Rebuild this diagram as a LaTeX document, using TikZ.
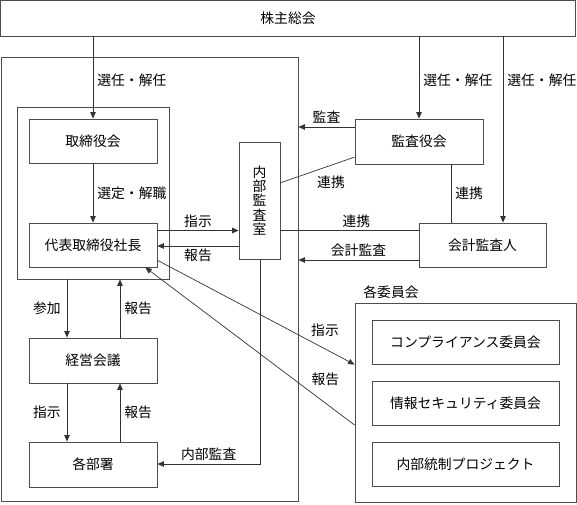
\documentclass[tikz,border=0pt]{standalone}
\usepackage{fontspec}
\setmainfont{Noto Sans CJK JP}
\usetikzlibrary{arrows.meta,positioning,calc}
\newcommand{\figfont}{\fontsize{13.8}{14.2}\selectfont}
\tikzset{
>={Triangle[length=6.5pt,width=5.5pt]},
  box/.style={
    rectangle,
    draw=black!70, line width=0.8pt,
    minimum width=128pt,
    minimum height=44pt,
    inner sep=0pt,
    font=\figfont},
  frame/.style={rectangle, draw=black!70, line width=0.8pt, inner sep=0pt},
  line/.style={draw=black!80, line width=0.7pt},
  arr/.style={line, ->},
  tag/.style={font=\figfont, inner sep=1pt},
}

\begin{document}
\begin{tikzpicture}[x=1pt,y=-1pt]
  \useasboundingbox (0,0) rectangle (577,504);
  % frames
  \node[frame, minimum width=297pt, minimum height=444pt] (kaisha) at (149.5,279.5) {};
  \node[frame, minimum width=152pt, minimum height=172pt] (torikai) at (93,193) {};
  \node[frame, minimum width=221pt, minimum height=199pt] (iinkai) at (465.5,402.5) {};
  \node[tag] (iinkailbl) at (391,292) {各委員会};
  % boxes
  \node[box, minimum width=575pt, minimum height=36pt] (soukai) at (288,18) {株主総会};
  \node[box] (torishimari) at (93,141) {取締役会};
  \node[box] (daihyo) at (93,245) {代表取締役社長};
  \node[box, minimum height=45pt] (keiei) at (93,360.5) {経営会議};
  \node[box, minimum height=45pt] (bubun) at (93,464.5) {各部署};
  \node[box, minimum width=41pt, minimum height=117pt, align=center] (naibu) at (259.5,200.5) {内\\部\\監\\査\\室};
  \node[box, minimum height=45pt] (kansayaku) at (419,141.5) {監査役会};
  \node[box, minimum width=127pt] (kaikei) at (482.5,245) {会計監査人};
  \node[box, minimum width=187pt] (compliance) at (465.5,342) {コンプライアンス委員会};
  \node[box, minimum width=187pt] (joho) at (465.5,403) {情報セキュリティ委員会};
  \node[box, minimum width=187pt] (tousei) at (465.5,464) {内部統制プロジェクト};
  % helper levels
  \coordinate (kansa) at (0,127);
  \coordinate (renkei) at (0,230.5);
  \coordinate (houkoku) at (0,246);
  \coordinate (kaikeikansa) at (0,260);
  \coordinate (naibukansa) at (0,464);
  \coordinate (sanka) at (67,0);
  \coordinate (agari) at (120,0);
  \coordinate (kkx) at (451,0);
  \coordinate (senx) at (503,0);
  % shareholders
  \draw[arr] (soukai.south -| torishimari.north) -- (torishimari.north)
    node[tag, right=3pt, pos=0.53] {選任・解任};
  \draw[arr] (soukai.south -| kansayaku.north) -- (kansayaku.north)
    node[tag, right=3pt, pos=0.53] {選任・解任};
  \draw[arr] (soukai.south -| senx) -- (kaikei.north -| senx)
    node[tag, right=3pt, pos=0.235] {選任・解任};
  \draw[arr] (torishimari) -- (daihyo) node[tag, right=3pt, midway] {選定・解職};
  % audit side
  \draw[arr] (kansayaku.west |- kansa) -- (kaisha.east |- kansa)
    node[tag, above=2pt, midway] {監査};
  \draw[line] ($(naibu.north east)!0.35!(naibu.south east)$) -- ($(kansayaku.north west)!0.84!(kansayaku.south west)$);
  \node[tag] at (331,182) {連携};
  \draw[line] (kansayaku.south -| kkx) -- (kaikei.north -| kkx)
    node[tag, right=3pt, midway] {連携};
  \draw[line] (naibu.east |- renkei) -- (kaikei.west |- renkei)
    node[tag, above=2pt, pos=0.55] {連携};
  \draw[arr] (kaikei.west |- kaikeikansa) -- (kaisha.east |- kaikeikansa)
    node[tag, above=2pt, midway] {会計監査};
  % president and internal audit
  \draw[arr] (daihyo.east |- renkei) -- (naibu.west |- renkei)
    node[tag, above=2pt, midway] {指示};
  \draw[arr] (naibu.west |- houkoku) -- (daihyo.east |- houkoku)
    node[tag, below=2pt, midway] {報告};
  \draw[arr] (naibu.south -| 260,0) |- (bubun.east |- naibukansa)
    node[tag, above=2pt, pos=0.75] {内部監査};
  % committees
  \draw[arr] ($(daihyo.north east)!0.84!(daihyo.south east)$) -- ($(iinkai.north west)!0.31!(iinkai.south west)$)
    node[tag, above=11pt, pos=0.85] {指示};
  \draw[arr] ($(iinkai.north west)!0.613!(iinkai.south west)$) -- ($(daihyo.south west)!0.906!(daihyo.south east)$)
    node[tag, above=16pt, pos=0.14] {報告};
  % management chain
  \draw[arr] (torikai.south -| sanka) -- (keiei.north -| sanka)
    node[tag, left=5pt, midway] {参加};
  \draw[arr] (keiei.north -| agari) -- (torikai.south -| agari)
    node[tag, right=3pt, midway] {報告};
  \draw[arr] (keiei.south -| sanka) -- (bubun.north -| sanka)
    node[tag, left=5pt, midway] {指示};
  \draw[arr] (bubun.north -| agari) -- (keiei.south -| agari)
    node[tag, right=3pt, midway] {報告};
\end{tikzpicture}
\end{document}
